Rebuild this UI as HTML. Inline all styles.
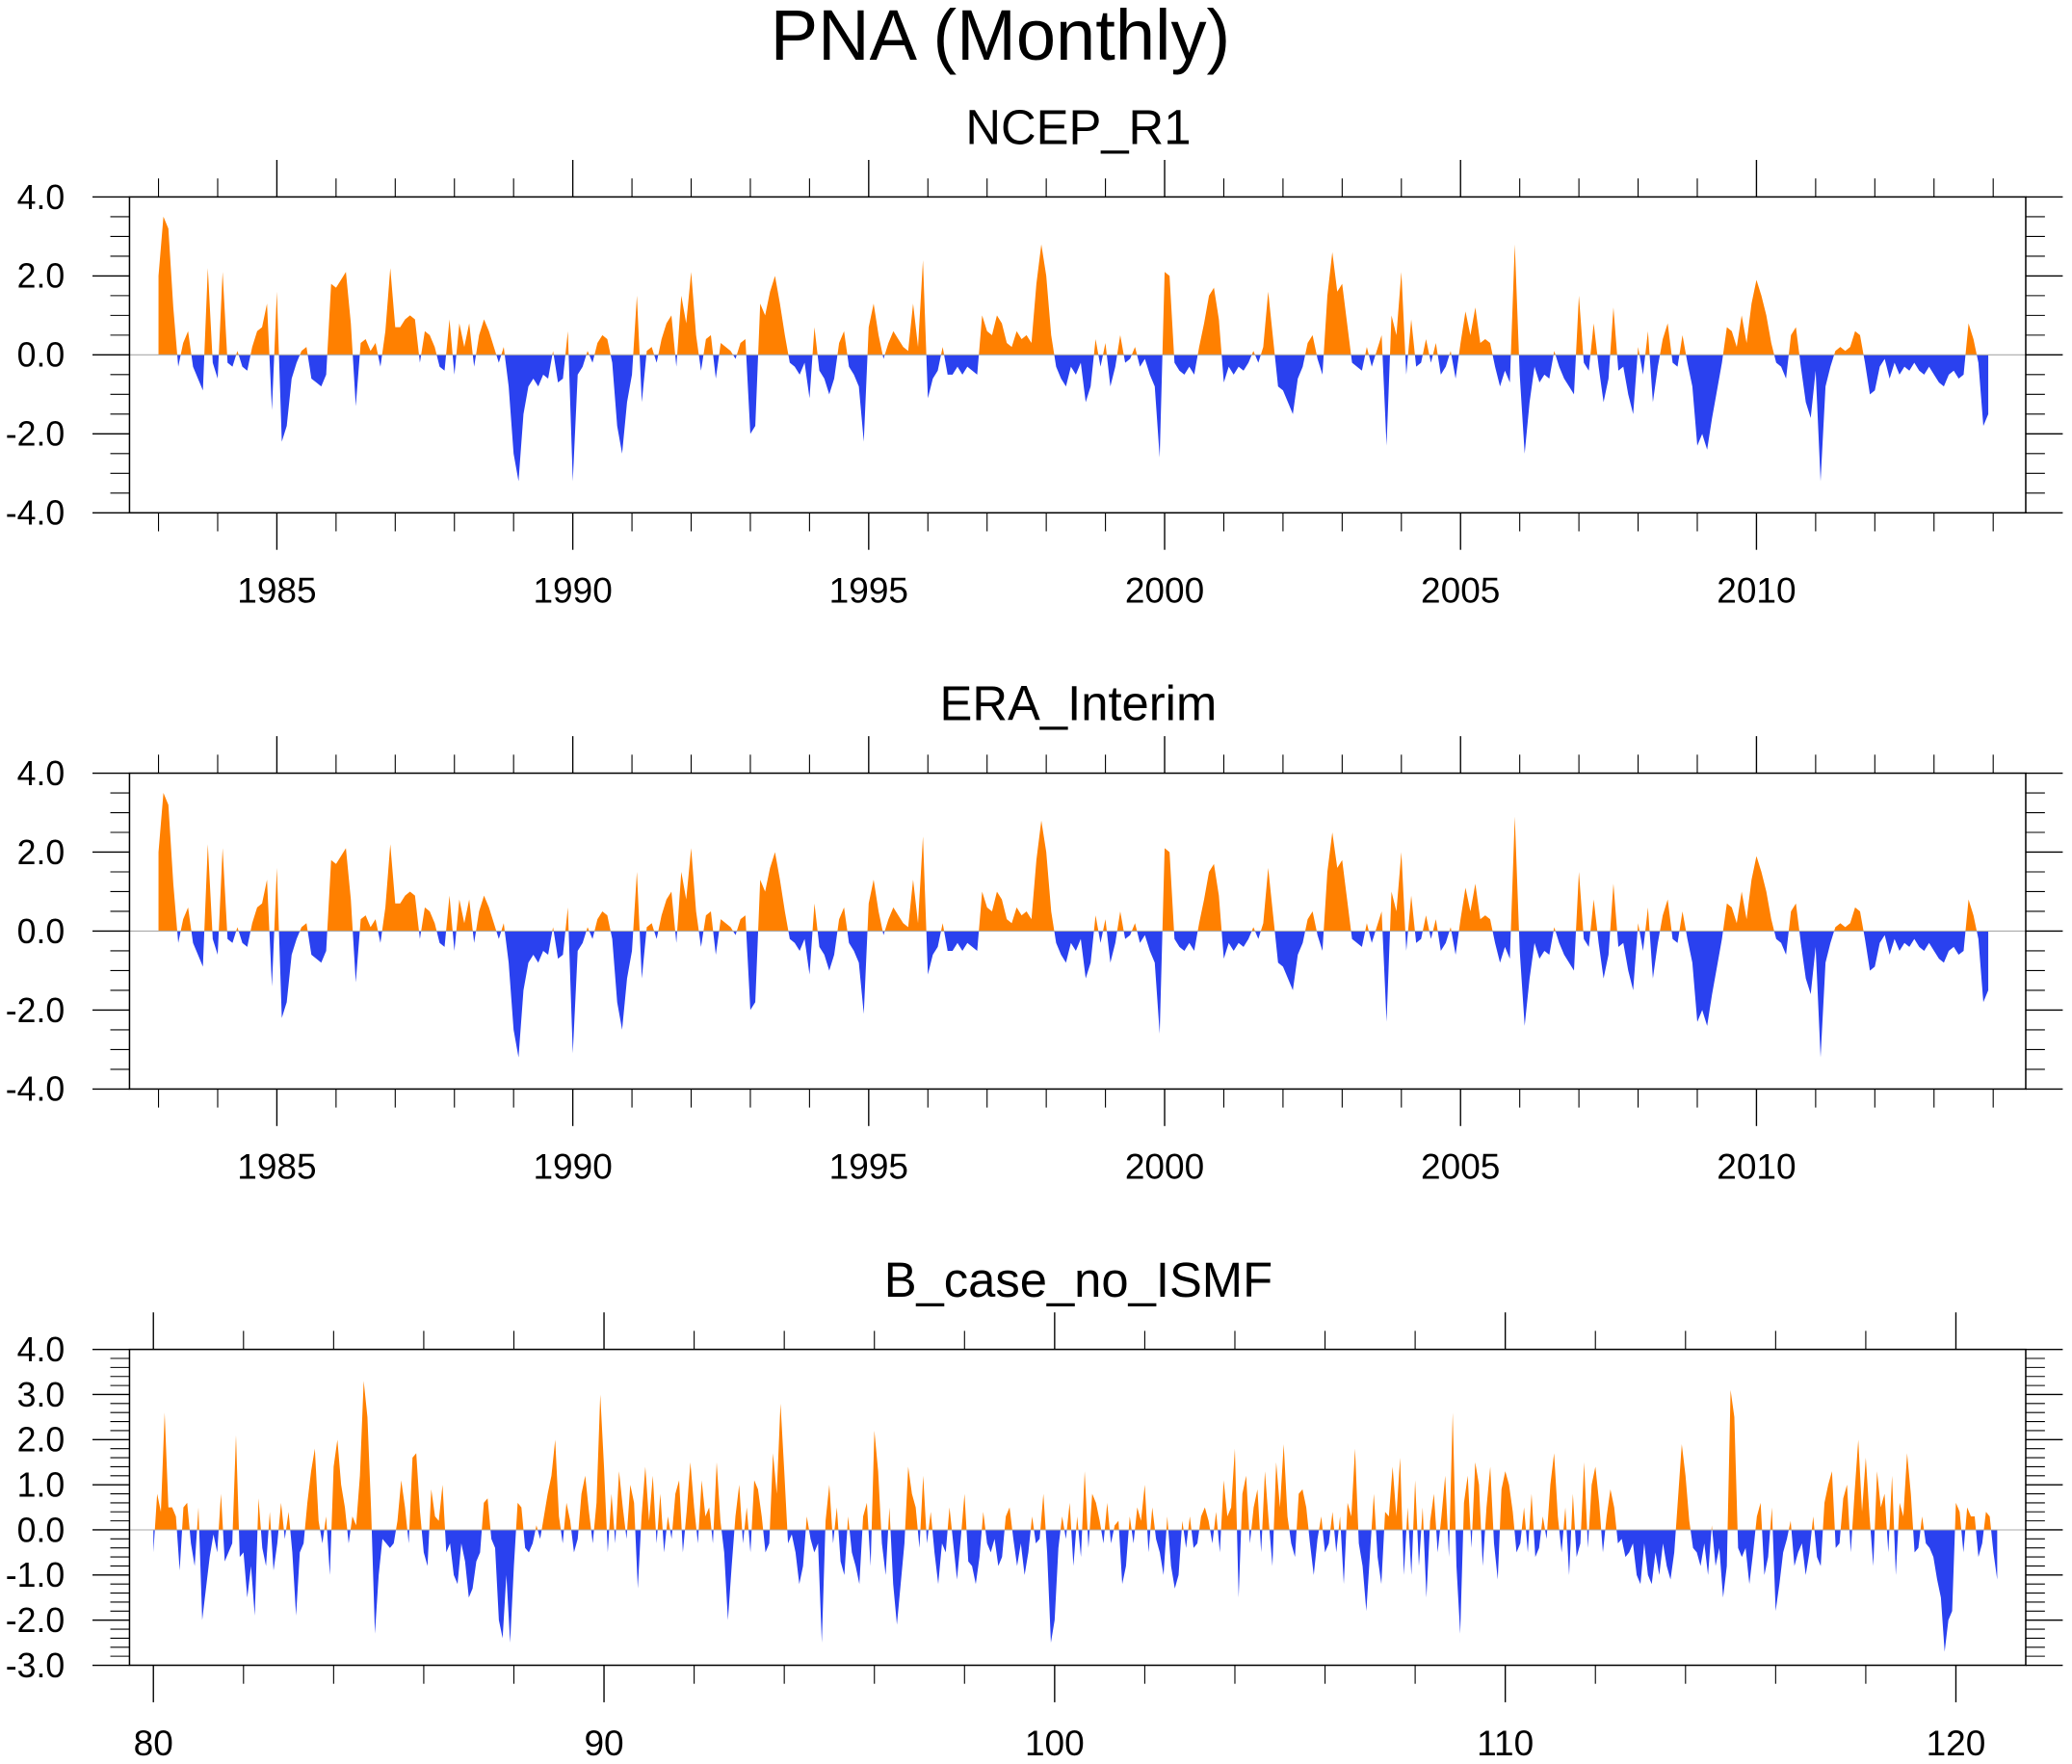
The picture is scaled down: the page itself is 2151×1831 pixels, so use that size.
<!DOCTYPE html>
<html><head><meta charset="utf-8">
<style>html,body{margin:0;padding:0;background:#fff}svg{display:block}text{font-family:"Liberation Sans",sans-serif;fill:#000}</style>
</head><body>
<svg id="chart" width="2151" height="1831" viewBox="0 0 1568 1334.7" xmlns="http://www.w3.org/2000/svg">
<rect width="1568" height="1334.7" fill="#fff"/>
<text x="757" y="45" font-size="54" text-anchor="middle">PNA (Monthly)</text>
<g id="plots"></g>
</svg>
<script>
const ncepValues = [
2.0,3.5,3.2,1.2,-0.3,0.3,0.6,-0.3,-0.6,-0.9,2.2,-0.2,
-0.6,2.1,-0.2,-0.3,0.1,-0.3,-0.4,0.2,0.6,0.7,1.3,-1.4,
1.6,-2.2,-1.8,-0.6,-0.2,0.1,0.2,-0.6,-0.7,-0.8,-0.5,1.8,
1.7,1.9,2.1,0.8,-1.3,0.3,0.4,0.1,0.3,-0.3,0.6,2.2,
0.7,0.7,0.9,1.0,0.9,-0.2,0.6,0.5,0.2,-0.3,-0.4,0.9,
-0.5,0.8,0.2,0.8,-0.3,0.5,0.9,0.6,0.2,-0.2,0.2,-0.8,
-2.5,-3.2,-1.5,-0.8,-0.6,-0.8,-0.5,-0.6,0.1,-0.7,-0.6,0.6,
-3.2,-0.5,-0.3,0.1,-0.2,0.3,0.5,0.4,-0.2,-1.8,-2.5,-1.2,
-0.5,1.5,-1.2,0.1,0.2,-0.2,0.4,0.8,1.0,-0.3,1.5,0.8,
2.1,0.5,-0.4,0.4,0.5,-0.6,0.3,0.2,0.1,-0.1,0.3,0.4,
-2.0,-1.8,1.3,1.0,1.6,2.0,1.3,0.5,-0.2,-0.3,-0.5,-0.2,
-1.1,0.7,-0.4,-0.6,-1.0,-0.6,0.3,0.6,-0.3,-0.5,-0.8,-2.2,
0.7,1.3,0.5,-0.1,0.3,0.6,0.4,0.2,0.1,1.3,0.2,2.4,
-1.1,-0.6,-0.4,0.2,-0.5,-0.5,-0.3,-0.5,-0.3,-0.4,-0.5,1.0,
0.6,0.5,1.0,0.8,0.3,0.2,0.6,0.4,0.5,0.3,1.8,2.8,
2.0,0.5,-0.3,-0.6,-0.8,-0.3,-0.5,-0.2,-1.2,-0.8,0.4,-0.3,
0.3,-0.8,-0.3,0.5,-0.2,-0.1,0.2,-0.3,-0.1,-0.5,-0.8,-2.6,
2.1,2.0,-0.2,-0.4,-0.5,-0.3,-0.5,0.2,0.8,1.5,1.7,0.9,
-0.7,-0.3,-0.5,-0.3,-0.4,-0.2,0.1,-0.2,0.2,1.6,0.4,-0.8,
-0.9,-1.2,-1.5,-0.6,-0.3,0.3,0.5,-0.1,-0.5,1.5,2.6,1.6,
1.8,0.8,-0.2,-0.3,-0.4,0.2,-0.3,0.1,0.5,-2.3,1.0,0.5,
2.1,-0.5,0.9,-0.3,-0.2,0.4,-0.2,0.3,-0.5,-0.3,0.1,-0.6,
0.3,1.1,0.5,1.2,0.3,0.4,0.3,-0.3,-0.8,-0.4,-0.7,2.8,
-0.5,-2.5,-1.2,-0.3,-0.7,-0.5,-0.6,0.1,-0.3,-0.6,-0.8,-1.0,
1.5,-0.2,-0.4,0.8,-0.3,-1.2,-0.6,1.2,-0.4,-0.3,-1.0,-1.5,
0.2,-0.5,0.6,-1.2,-0.3,0.4,0.8,-0.2,-0.3,0.5,-0.2,-0.8,
-2.3,-2.0,-2.4,-1.6,-0.9,-0.2,0.7,0.6,0.2,1.0,0.3,1.3,
1.9,1.5,1.0,0.3,-0.2,-0.3,-0.6,0.5,0.7,-0.3,-1.2,-1.6,
-0.4,-3.2,-0.8,-0.3,0.1,0.2,0.1,0.2,0.6,0.5,-0.2,-1.0,
-0.9,-0.3,-0.1,-0.6,-0.2,-0.5,-0.3,-0.4,-0.2,-0.4,-0.5,-0.3,
-0.5,-0.7,-0.8,-0.5,-0.4,-0.6,-0.5,0.8,0.4,-0.2,-1.8,-1.5];
const eraValues = [
2.0,3.5,3.2,1.2,-0.3,0.3,0.6,-0.3,-0.6,-0.9,2.2,-0.2,
-0.6,2.1,-0.2,-0.3,0.1,-0.3,-0.4,0.2,0.6,0.7,1.3,-1.4,
1.6,-2.2,-1.8,-0.6,-0.2,0.1,0.2,-0.6,-0.7,-0.8,-0.5,1.8,
1.7,1.9,2.1,0.8,-1.3,0.3,0.4,0.1,0.3,-0.3,0.6,2.2,
0.7,0.7,0.9,1.0,0.9,-0.2,0.6,0.5,0.2,-0.3,-0.4,0.9,
-0.5,0.8,0.2,0.8,-0.3,0.5,0.9,0.6,0.2,-0.2,0.2,-0.8,
-2.5,-3.2,-1.5,-0.8,-0.6,-0.8,-0.5,-0.6,0.1,-0.7,-0.6,0.6,
-3.1,-0.5,-0.3,0.1,-0.2,0.3,0.5,0.4,-0.2,-1.8,-2.5,-1.2,
-0.5,1.5,-1.2,0.1,0.2,-0.2,0.4,0.8,1.0,-0.3,1.5,0.8,
2.1,0.5,-0.4,0.4,0.5,-0.6,0.3,0.2,0.1,-0.1,0.3,0.4,
-2.0,-1.8,1.3,1.0,1.6,2.0,1.3,0.5,-0.2,-0.3,-0.5,-0.2,
-1.1,0.7,-0.4,-0.6,-1.0,-0.6,0.3,0.6,-0.3,-0.5,-0.8,-2.1,
0.7,1.3,0.5,-0.1,0.3,0.6,0.4,0.2,0.1,1.3,0.2,2.4,
-1.1,-0.6,-0.4,0.2,-0.5,-0.5,-0.3,-0.5,-0.3,-0.4,-0.5,1.0,
0.6,0.5,1.0,0.8,0.3,0.2,0.6,0.4,0.5,0.3,1.8,2.8,
2.0,0.5,-0.3,-0.6,-0.8,-0.3,-0.5,-0.2,-1.2,-0.8,0.4,-0.3,
0.3,-0.8,-0.3,0.5,-0.2,-0.1,0.2,-0.3,-0.1,-0.5,-0.8,-2.6,
2.1,2.0,-0.2,-0.4,-0.5,-0.3,-0.5,0.2,0.8,1.5,1.7,0.9,
-0.7,-0.3,-0.5,-0.3,-0.4,-0.2,0.1,-0.2,0.2,1.6,0.4,-0.8,
-0.9,-1.2,-1.5,-0.6,-0.3,0.3,0.5,-0.1,-0.5,1.5,2.5,1.6,
1.8,0.8,-0.2,-0.3,-0.4,0.2,-0.3,0.1,0.5,-2.3,1.0,0.5,
2.0,-0.5,0.9,-0.3,-0.2,0.4,-0.2,0.3,-0.5,-0.3,0.1,-0.6,
0.3,1.1,0.5,1.2,0.3,0.4,0.3,-0.3,-0.8,-0.4,-0.7,2.9,
-0.5,-2.4,-1.2,-0.3,-0.7,-0.5,-0.6,0.1,-0.3,-0.6,-0.8,-1.0,
1.5,-0.2,-0.4,0.8,-0.3,-1.2,-0.6,1.2,-0.4,-0.3,-1.0,-1.5,
0.2,-0.5,0.6,-1.2,-0.3,0.4,0.8,-0.2,-0.3,0.5,-0.2,-0.8,
-2.3,-2.0,-2.4,-1.6,-0.9,-0.2,0.7,0.6,0.2,1.0,0.3,1.3,
1.9,1.5,1.0,0.3,-0.2,-0.3,-0.6,0.5,0.7,-0.3,-1.2,-1.6,
-0.4,-3.2,-0.8,-0.3,0.1,0.2,0.1,0.2,0.6,0.5,-0.2,-1.0,
-0.9,-0.3,-0.1,-0.6,-0.2,-0.5,-0.3,-0.4,-0.2,-0.4,-0.5,-0.3,
-0.5,-0.7,-0.8,-0.5,-0.4,-0.6,-0.5,0.8,0.4,-0.2,-1.8,-1.5];
const modelValues = [
-0.5,0.8,0.4,2.6,0.5,0.5,0.3,-0.9,0.5,0.6,-0.3,-0.8,
0.5,-2.0,-1.3,-0.6,-0.1,-0.5,0.8,-0.7,-0.5,-0.3,2.1,-0.6,
-0.5,-1.5,-0.8,-1.9,0.7,-0.4,-0.8,0.4,-0.9,-0.3,0.6,-0.2,
0.4,-0.5,-1.9,-0.5,-0.3,0.6,1.3,1.8,0.2,-0.3,0.3,-1.0,
1.4,2.0,1.0,0.5,-0.3,0.3,0.1,1.2,3.3,2.5,0.4,-2.3,
-1.0,-0.2,-0.3,-0.4,-0.3,0.2,1.1,0.5,-0.3,1.6,1.7,0.4,
-0.5,-0.8,0.9,0.3,0.2,1.0,-0.5,-0.3,-1.0,-1.2,-0.3,-0.7,
-1.5,-1.3,-0.7,-0.5,0.6,0.7,-0.2,-0.4,-2.0,-2.4,-1.0,-2.5,
-0.8,0.6,0.5,-0.4,-0.5,-0.3,0.1,-0.2,0.3,0.8,1.2,2.0,
0.3,-0.3,0.6,0.2,-0.5,-0.2,0.8,1.2,0.4,-0.3,0.6,3.0,
1.4,-0.5,0.8,-0.3,1.3,0.5,-0.2,1.0,0.6,-1.3,0.3,1.4,
0.2,1.2,-0.3,0.8,-0.5,0.3,-0.2,0.8,1.1,-0.5,0.4,1.5,
0.5,-0.3,1.1,0.3,0.5,-0.3,1.5,0.2,-0.5,-2.0,-0.8,0.3,
1.0,-0.3,0.5,-0.5,1.1,0.9,0.3,-0.5,-0.3,1.7,0.8,2.8,
1.3,-0.3,-0.1,-0.5,-1.2,-0.8,0.3,-0.2,-0.5,-0.3,-2.5,0.2,
1.0,-0.3,0.5,-0.7,-1.0,0.3,-0.5,-0.8,-1.2,0.3,0.6,-0.8,
2.2,1.3,-0.3,-1.0,0.5,-1.2,-2.1,-1.2,-0.3,1.4,0.8,0.5,
-0.4,1.2,-0.3,0.4,-0.5,-1.2,-0.3,-0.5,0.5,-0.3,-1.1,-0.2,
0.8,-0.7,-0.8,-1.2,-0.6,0.4,-0.3,-0.5,-0.2,-0.8,-0.6,0.3,
0.5,-0.2,-0.8,-0.3,-1.0,-0.5,0.3,-0.3,-0.2,0.8,-0.5,-2.5,
-2.0,-0.4,0.3,-0.2,0.6,-0.8,0.3,-0.6,1.3,-0.4,0.8,0.6,
0.2,-0.3,0.6,-0.3,0.1,0.2,-1.2,-0.8,0.3,-0.3,0.5,0.2,
1.0,-0.5,0.5,-0.2,-0.5,-1.0,0.3,-0.8,-1.3,-1.0,0.2,-0.4,
0.3,-0.4,-0.3,0.3,0.5,0.2,-0.3,0.4,-0.5,1.1,0.3,0.5,
1.8,-1.5,0.8,1.2,-0.3,0.5,0.9,-0.5,1.3,0.2,-0.8,1.5,
0.5,1.9,0.3,-0.3,-0.6,0.8,0.9,0.5,-0.3,-1.0,-0.2,0.3,
-0.5,-0.3,0.4,-0.5,0.3,-1.2,0.6,0.3,1.8,-0.3,-0.8,-1.8,
-0.5,0.8,-0.6,-1.2,0.4,0.3,1.4,0.3,1.6,-1.0,0.5,-1.0,
1.1,-0.8,0.5,-1.5,0.2,0.8,-0.5,0.3,1.2,-0.6,2.6,-0.8,
-2.3,0.6,1.2,-0.4,1.5,1.0,-0.8,0.5,1.4,-0.3,-1.1,0.9,
1.3,1.0,0.4,-0.5,-0.3,0.5,-0.5,0.8,-0.6,-0.4,0.3,-0.2,
1.0,1.7,0.3,-0.5,0.5,-1.0,0.8,-0.6,-0.3,1.5,-0.4,1.0,
1.4,0.6,-0.5,0.3,0.9,0.5,-0.3,-0.2,-0.6,-0.5,-0.3,-1.0,
-1.2,-0.3,-1.0,-1.2,-0.5,-1.0,-0.3,-0.8,-1.1,-0.5,0.7,1.9,
1.2,0.2,-0.4,-0.5,-0.8,-0.3,-1.0,0.1,-0.8,-0.4,-1.5,-0.8,
3.1,2.5,-0.4,-0.6,-0.4,-1.2,-0.5,0.3,0.6,-1.0,-0.6,0.5,
-1.8,-1.2,-0.5,-0.2,0.2,-0.8,-0.5,-0.3,-1.0,-0.5,0.3,-0.6,
-0.8,0.6,1.0,1.3,-0.4,-0.3,0.7,1.0,-0.5,0.8,2.0,0.4,
1.6,0.3,-0.8,1.3,0.5,0.8,-0.5,1.2,-1.0,0.6,0.3,1.7,
0.8,-0.5,-0.4,0.3,-0.3,-0.4,-0.6,-1.1,-1.5,-2.7,-2.0,-1.8,
0.6,0.4,-0.5,0.5,0.3,0.3,-0.6,-0.3,0.4,0.3,-0.5,-1.1];
const yearTickLabels = ["1985","1990","1995","2000","2005","2010"];
const yearTickValues = [1985,1990,1995,2000,2005,2010];
const modelTickLabels = ["80","90","100","110","120"];
const modelTickValues = [80,90,100,110,120];
const yTicks1 = [-4,-2,0,2,4];
const yTicks3 = [-3,-2,-1,0,1,2,3,4];

const NS = "http://www.w3.org/2000/svg";
const root = document.getElementById('plots');
function mk(tag, attrs, parent){const e=document.createElementNS(NS,tag);for(const k in attrs)e.setAttribute(k,attrs[k]);(parent||root).appendChild(e);return e;}

function panel(cfg, idx){
  const L=98,R=1533,T=cfg.top,B=cfg.top+239;
  const g=mk('g',{});
  
  
  const xs=v=>L+(v-cfg.xmin)/(cfg.xmax-cfg.xmin)*(R-L);
  const ys=v=>B-(v-cfg.ymin)/(cfg.ymax-cfg.ymin)*(B-T);
  const t=mk('text',{x:816,y:T-40,'font-size':37,'text-anchor':'middle'},g);
  t.textContent=cfg.title;
  
  
  const z=ys(0);
  let d='M'+xs(cfg.x0)+','+z;
  cfg.values.forEach((v,i)=>{d+=' L'+xs(cfg.x0+i/12).toFixed(2)+','+ys(v).toFixed(2);});
  d+=' L'+xs(cfg.x0+(cfg.values.length-1)/12).toFixed(2)+','+z+' Z';
  const cpA=mk('clipPath',{id:'ca'+idx},g); mk('rect',{x:L,y:T,width:R-L,height:z-T},cpA);
  const cpB=mk('clipPath',{id:'cb'+idx},g); mk('rect',{x:L,y:z,width:R-L,height:B-z},cpB);
  const pa=mk('path',{d:d,fill:'#ff8000','clip-path':'url(#ca'+idx+')'},g);
  
  
  const pb=mk('path',{d:d,fill:'#2a41ef','clip-path':'url(#cb'+idx+')'},g);
  
  
  mk('line',{x1:L,x2:R,y1:z,y2:z,stroke:'#aaa','stroke-width':0.8},g);
  const box=mk('rect',{x:L,y:T,width:R-L,height:B-T,fill:'none',stroke:'#000','stroke-width':1.1},g);
  
  
  for(let v=cfg.ymin; v<=cfg.ymax+1e-9; v+=cfg.yminor){
    const vv=Math.round(v*100)/100;
    const major=cfg.yticks.some(m=>Math.abs(m-vv)<1e-6);
    const len=major?28:14.5, y=ys(vv);
    mk('line',{x1:L-len,x2:L,y1:y,y2:y,stroke:'#000','stroke-width':major?1:0.8},g);
    mk('line',{x1:R,x2:R+len,y1:y,y2:y,stroke:'#000','stroke-width':major?1:0.8},g);
  }
  cfg.yticks.forEach(v=>{
    const tx=mk('text',{x:49,y:ys(v)+9,'font-size':26,'text-anchor':'end'},g);
    tx.textContent=v.toFixed(1);
    
    
  });
  for(let v=cfg.xminorStart; v<=cfg.xmax; v+=cfg.xminor){
    const major=cfg.xticks.includes(v);
    const len=major?28:14, x=xs(v);
    mk('line',{x1:x,x2:x,y1:B,y2:B+len,stroke:'#000','stroke-width':major?1:0.8},g);
    mk('line',{x1:x,x2:x,y1:T-len,y2:T,stroke:'#000','stroke-width':major?1:0.8},g);
  }
  cfg.xticks.forEach((v,i)=>{
    const tx=mk('text',{x:xs(v),y:B+68,'font-size':27,'text-anchor':'middle'},g);
    tx.textContent=cfg.xlabels[i];
    
    
  });
}
panel({name:'ncep-r1',title:'NCEP_R1',top:149,values:ncepValues,x0:1983,xmin:1982.51,xmax:2014.55,ymin:-4,ymax:4,yticks:yTicks1,yminor:0.5,xticks:yearTickValues,xlabels:yearTickLabels,xminorStart:1983,xminor:1},0);
panel({name:'era-interim',title:'ERA_Interim',top:585,values:eraValues,x0:1983,xmin:1982.51,xmax:2014.55,ymin:-4,ymax:4,yticks:yTicks1,yminor:0.5,xticks:yearTickValues,xlabels:yearTickLabels,xminorStart:1983,xminor:1},1);
panel({name:'b-case-no-ismf',title:'B_case_no_ISMF',top:1021,values:modelValues,x0:80,xmin:79.47,xmax:121.55,ymin:-3,ymax:4,yticks:yTicks3,yminor:0.2,xticks:modelTickValues,xlabels:modelTickLabels,xminorStart:80,xminor:2},2);
</script>
</body></html>
